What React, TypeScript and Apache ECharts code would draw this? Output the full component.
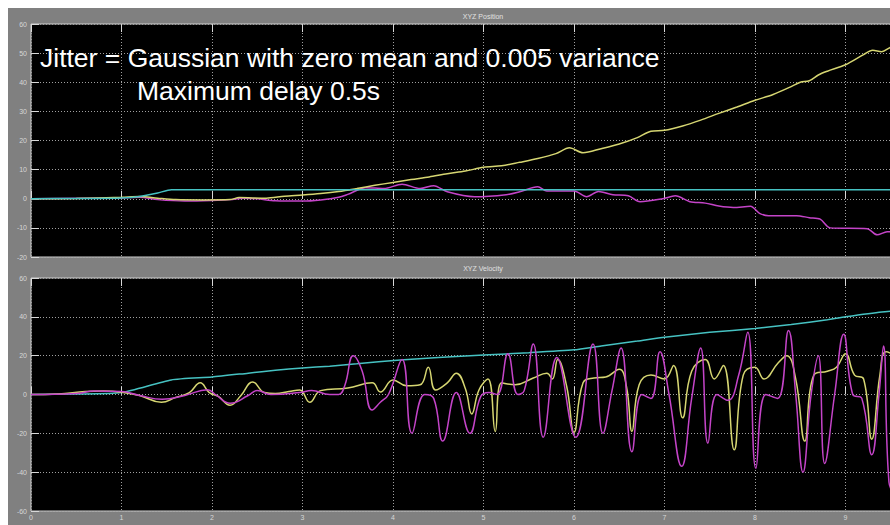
import React, { useEffect, useRef } from "react";
import * as echarts from "echarts";

// ---- tick labels ----
const xTicks = [0, 1, 2, 3, 4, 5, 6, 7, 8, 9, 10];
const posYTicks = [-20, -10, 0, 10, 20, 30, 40, 50, 60];
const velYTicks = [-60, -40, -20, 0, 20, 40, 60];

// ---- XYZ Position (time, value) ----
const posCyan: number[][] = [
  [0, 0], [0.5, 0.1], [1.0, 0.3], [1.2, 0.8], [1.4, 2.0], [1.55, 3.1], [3.0, 3.1], [6.0, 3.1], [9.7, 3.1],
];
const posYellow: number[][] = [
  [0, 0], [0.5, 0.1], [1.0, 0.5], [1.2, 0.8], [1.4, 0.2], [1.6, -0.3], [1.9, -0.4], [2.2, -0.3], [2.3, 0.4],
  [2.6, 0.2], [2.8, 0.9], [3.0, 1.3], [3.2, 1.8], [3.4, 2.5], [3.6, 3.5], [3.8, 4.6], [4.0, 5.6], [4.2, 6.6],
  [4.4, 7.5], [4.6, 8.6], [4.8, 9.5], [5.0, 10.8], [5.2, 11.3], [5.4, 12.5], [5.6, 13.8], [5.8, 15.5],
  [5.95, 17.5], [6.1, 15.8], [6.3, 17.2], [6.5, 18.8], [6.7, 21], [6.85, 23.2], [7.0, 23.5], [7.2, 25],
  [7.4, 27], [7.6, 29.3], [7.8, 31.5], [8.0, 33.8], [8.2, 35.8], [8.4, 38.5], [8.5, 40], [8.6, 40.5],
  [8.7, 42.5], [8.8, 43.8], [9.0, 46], [9.2, 49.5], [9.3, 51], [9.4, 50.5], [9.5, 52], [9.7, 54],
];
const posMagenta: number[][] = [
  [0, 0], [1.0, 0.3], [1.2, 0.5], [1.4, -0.3], [1.7, -0.8], [2.0, -0.6], [2.2, -0.3], [2.35, 0.2], [2.5, 0],
  [2.7, -0.7], [3.0, -0.8], [3.2, -0.4], [3.4, 0.5], [3.5, 1.5], [3.7, 3.8], [3.9, 3.5], [4.1, 5.0],
  [4.3, 3.5], [4.45, 4.5], [4.6, 2.4], [4.9, 0.7], [5.25, 1.4], [5.4, 2.4], [5.6, 4.1], [5.7, 2.7],
  [6.0, 2.7], [6.14, 0.7], [6.27, 2.5], [6.43, 1.4], [6.6, 1.0], [6.73, -1.0], [6.98, 0], [7.12, 1.0],
  [7.28, -1.0], [7.45, -1.5], [7.6, -2.5], [7.76, -3.0], [7.95, -2.6], [8.05, -5.0], [8.15, -5.8],
  [8.46, -5.8], [8.6, -6.5], [8.72, -7.0], [8.83, -10.0], [9.24, -10.3], [9.35, -12.4], [9.46, -11.3],
  [9.7, -11.8],
];

// ---- XYZ Velocity (time, value) ----
const velCyan: number[][] = [
  [0, 0], [0.5, 0.2], [1.0, 1.0], [1.55, 7.5], [2.0, 9], [2.4, 11], [2.7, 12.5], [3.0, 13.7], [3.3, 14.6],
  [3.6, 15.8], [4.08, 17.8], [4.5, 19], [5.0, 20.3], [5.5, 21.5], [6.0, 23], [6.3, 25], [6.7, 27.5],
  [7.0, 29.5], [7.5, 32], [8.0, 34], [8.4, 36], [8.8, 38.5], [9.0, 40], [9.4, 42.5], [9.7, 43.5],
];
const velYellow: number[][] = [
  [0, 0], [0.3, 0.3], [0.6, 1.5], [0.8, 1.8], [1.0, 1.2], [1.2, -0.5], [1.44, -4], [1.6, -1.5], [1.75, 1],
  [1.87, 6], [1.97, 1], [2.07, -1], [2.2, -5.5], [2.32, -0.5], [2.45, 6.5], [2.58, 1], [2.7, 0.5],
  [2.85, 1.5], [2.97, 2.3], [3.08, -4], [3.2, 2], [3.5, 3.3], [3.77, 6], [3.86, 1.3], [4.0, 7.5],
  [4.15, 4.5], [4.3, 5], [4.39, 14], [4.47, 2.3], [4.6, 6], [4.7, 11], [4.8, 3], [4.87, -10], [4.95, 2.3],
  [5.05, 8], [5.13, -19], [5.2, 6], [5.35, 5], [5.55, 8.5], [5.7, 11], [5.76, 8], [5.82, 18], [5.92, 4],
  [6.0, -19.5], [6.1, 6], [6.22, 8.5], [6.35, 9], [6.5, 13], [6.58, 4], [6.64, -19], [6.72, 5], [6.85, 10],
  [7.0, 8], [7.1, 15], [7.2, -12], [7.3, 12], [7.45, 18], [7.55, 8], [7.65, 15], [7.77, -28.5], [7.87, 10],
  [8.0, 14], [8.1, 8], [8.25, 16], [8.35, 20], [8.45, 8], [8.55, -24], [8.65, 10], [8.8, 12], [8.9, 14],
  [9.0, 21], [9.1, 10], [9.2, 8], [9.29, -23], [9.38, 10], [9.45, 22], [9.6, 18],
];
const velMagenta: number[][] = [
  [0, 0], [0.5, 0.5], [0.7, 1.8], [1.0, 1.5], [1.2, -0.5], [1.45, -2.5], [1.7, -0.5], [1.95, 2.5],
  [2.05, -0.5], [2.2, -4.5], [2.4, -0.5], [2.5, 2], [2.65, 0], [2.97, 1], [3.1, 2], [3.3, 0], [3.4, 0],
  [3.47, 5], [3.56, 20], [3.66, 12], [3.77, -8], [3.86, -4], [3.95, 0], [4.1, 18], [4.21, -20], [4.35, 0],
  [4.45, -2], [4.55, -24], [4.7, 1], [4.85, -20], [4.97, -1], [5.06, 1], [5.15, 0], [5.27, 21], [5.38, 0],
  [5.45, 2], [5.55, 26], [5.66, -22], [5.81, 19], [6.02, -22], [6.21, 26], [6.32, -20], [6.42, 2],
  [6.52, 24], [6.64, -29.5], [6.75, 0], [6.85, -2], [6.95, 22], [7.05, 0], [7.19, -37], [7.3, -2],
  [7.4, 24], [7.48, -25], [7.58, 0], [7.7, -3], [7.82, 10], [7.92, 32], [8.01, -38], [8.12, 0],
  [8.25, -2], [8.37, 33], [8.45, 0], [8.53, -40], [8.62, 0], [8.7, 20], [8.77, -35.5], [8.88, 0],
  [8.98, 31], [9.08, 0], [9.18, -2], [9.29, -31], [9.37, 0], [9.42, 25], [9.48, -45], [9.55, -52],
];

const CYAN = "#46c2c2";
const YELLOW = "#d6d672";
const MAGENTA = "#c444c8";

export default function App() {
  const ref = useRef<HTMLDivElement>(null);

  useEffect(() => {
    if (!ref.current) return;
    const chart = echarts.init(ref.current, undefined, { renderer: "svg" });

    const grid = {
      left: 31, right: -46, height: 233, show: true, backgroundColor: "#000", borderColor: "#cfcfcf", borderWidth: 1,
      outerBoundsMode: "none", containLabel: false,
    };
    const split = { show: true, lineStyle: { color: "#a0a0a0", width: 1, type: [1, 2] as any } };
    const labelStyle = { color: "#d6d6d6", fontSize: 7, fontFamily: "Liberation Sans, Arial, sans-serif" };

    const mkX = (gridIndex: number, position: string, labels: boolean, grid2: boolean) => ({
      type: "value",
      gridIndex,
      position,
      min: xTicks[0],
      max: xTicks[xTicks.length - 1],
      interval: 1,
      axisLine: { show: false },
      axisTick: { show: true, inside: true, length: 8, lineStyle: { color: "#d8d8d8", width: 1 } },
      axisLabel: { show: labels, margin: 3, showMaxLabel: false, ...labelStyle },
      splitLine: grid2 ? split : { show: false },
    });
    const mkY = (gridIndex: number, ticks: number[]) => ({
      type: "value",
      gridIndex,
      min: ticks[0],
      max: ticks[ticks.length - 1],
      interval: ticks[1] - ticks[0],
      axisLine: { show: false },
      axisTick: { show: true, inside: true, length: 8, lineStyle: { color: "#d8d8d8", width: 1 } },
      axisLabel: { show: true, margin: 4, ...labelStyle },
      splitLine: split,
    });
    const line = (data: number[][], color: string, xi: number, yi: number, smooth: number) => ({
      type: "line",
      data,
      xAxisIndex: xi,
      yAxisIndex: yi,
      showSymbol: false,
      smooth,
      lineStyle: { color, width: 1.5 },
      itemStyle: { color },
    });

    chart.setOption({
      animation: false,
      backgroundColor: "#ffffff",
      graphic: [
        { type: "rect", z: -10, shape: { x: 8, y: 8, width: 882, height: 517 }, style: { fill: "#808080" } },
        {
          type: "text", z: 10, x: 483, y: 16,
          style: { text: "XYZ Position", fill: "#e0e0e0", fontSize: 7, align: "center", verticalAlign: "middle", fontFamily: "Liberation Sans, Arial, sans-serif" },
        },
        {
          type: "text", z: 10, x: 483, y: 268,
          style: { text: "XYZ Velocity", fill: "#e0e0e0", fontSize: 7, align: "center", verticalAlign: "middle", fontFamily: "Liberation Sans, Arial, sans-serif" },
        },
        {
          type: "text", z: 100, x: 40, y: 58,
          style: { text: "Jitter = Gaussian with zero mean and 0.005 variance", fill: "#ffffff", fontSize: 26.5, align: "left", verticalAlign: "middle", fontFamily: "Liberation Sans, Arial, sans-serif" },
        },
        {
          type: "text", z: 100, x: 137, y: 91,
          style: { text: "Maximum delay 0.5s", fill: "#ffffff", fontSize: 26.5, align: "left", verticalAlign: "middle", fontFamily: "Liberation Sans, Arial, sans-serif" },
        },
      ],
      grid: [
        { ...grid, top: 24 },
        { ...grid, top: 278 },
      ],
      xAxis: [
        mkX(0, "bottom", false, true),
        mkX(0, "top", false, false),
        mkX(1, "bottom", true, true),
        mkX(1, "top", false, false),
      ],
      yAxis: [mkY(0, posYTicks), mkY(1, velYTicks)],
      series: [
        line(posMagenta, MAGENTA, 0, 0, 0.3),
        line(posYellow, YELLOW, 0, 0, 0.3),
        line(posCyan, CYAN, 0, 0, 0.2),
        line(velCyan, CYAN, 2, 1, 0.2),
        line(velYellow, YELLOW, 2, 1, 0.45),
        line(velMagenta, MAGENTA, 2, 1, 0.45),
      ],
    });

    return () => chart.dispose();
  }, []);

  return <div ref={ref} style={{ position: "fixed", left: 0, top: 0, width: 890, height: 525 }} />;
}
